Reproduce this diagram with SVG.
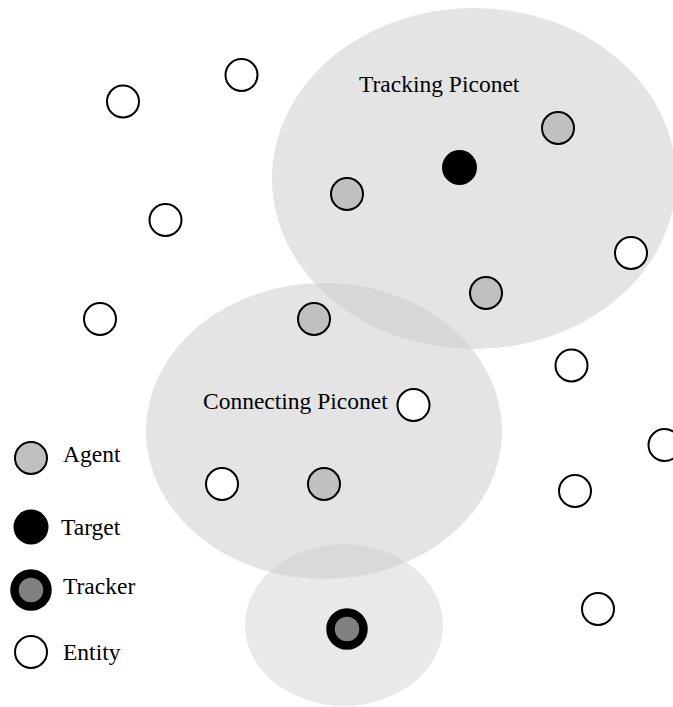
<svg xmlns="http://www.w3.org/2000/svg" width="673" height="707" viewBox="0 0 673 707">
  <style>
    .zone { fill: #c9c9c9; fill-opacity: 0.5; stroke: none; }
    .zone-small { fill: #c9c9c9; fill-opacity: 0.41; stroke: none; }
    .entity { fill: #ffffff; stroke: #000000; stroke-width: 2; }
    .agent { fill: #c0c0c0; stroke: #000000; stroke-width: 2; }
    .target { fill: #000000; stroke: none; }
    .tracker { fill: #808080; stroke: #000000; stroke-width: 8.5; }
    .label { font-family: "Liberation Serif", "Times New Roman", serif; font-size: 23.5px; fill: #000000; }
  </style>
  <rect x="0" y="0" width="673" height="707" fill="#ffffff"/>

  <!-- piconet coverage areas -->
  <g id="piconets">
    <ellipse id="tracking-piconet" class="zone" cx="474" cy="178.5" rx="202" ry="170.5"/>
    <ellipse id="connecting-piconet" class="zone" cx="324" cy="431" rx="178" ry="148"/>
    <ellipse id="tracker-piconet" class="zone-small" cx="344" cy="625" rx="99" ry="81"/>
  </g>

  <g id="piconet-labels">
    <text class="label" x="359" y="92">Tracking Piconet</text>
    <text class="label" x="203" y="409">Connecting Piconet</text>
  </g>

  <!-- entities -->
  <g id="entity-1"><circle class="entity" cx="241.5" cy="75" r="16"/></g>
  <g id="entity-2"><circle class="entity" cx="123" cy="101.5" r="16"/></g>
  <g id="entity-3"><circle class="entity" cx="165.5" cy="220" r="16"/></g>
  <g id="entity-4"><circle class="entity" cx="100" cy="319" r="16"/></g>
  <g id="entity-5"><circle class="entity" cx="631" cy="253" r="16"/></g>
  <g id="entity-6"><circle class="entity" cx="571.5" cy="365.5" r="16"/></g>
  <g id="entity-7"><circle class="entity" cx="413.5" cy="405" r="16"/></g>
  <g id="entity-8"><circle class="entity" cx="664.5" cy="445" r="16"/></g>
  <g id="entity-9"><circle class="entity" cx="575" cy="491" r="16"/></g>
  <g id="entity-10"><circle class="entity" cx="598" cy="609" r="16"/></g>
  <g id="entity-11"><circle class="entity" cx="222" cy="484" r="16"/></g>

  <!-- agents -->
  <g id="agent-1"><circle class="agent" cx="558" cy="128" r="16"/></g>
  <g id="agent-2"><circle class="agent" cx="347" cy="194" r="16"/></g>
  <g id="agent-3"><circle class="agent" cx="486" cy="293" r="16"/></g>
  <g id="agent-4"><circle class="agent" cx="314" cy="319" r="16"/></g>
  <g id="agent-5"><circle class="agent" cx="324" cy="484" r="16"/></g>

  <!-- target and tracker -->
  <g id="target"><circle class="target" cx="459.5" cy="167.5" r="17.5"/></g>
  <g id="tracker"><circle class="tracker" cx="347" cy="629" r="16.5"/></g>

  <!-- legend -->
  <g id="legend-agent">
    <circle class="agent" cx="31" cy="458" r="16"/>
    <text class="label" x="63" y="462">Agent</text>
  </g>
  <g id="legend-target">
    <circle class="target" cx="31" cy="527" r="17.5"/>
    <text class="label" x="61" y="535">Target</text>
  </g>
  <g id="legend-tracker">
    <circle class="tracker" cx="31" cy="590" r="16.5"/>
    <text class="label" x="63" y="594">Tracker</text>
  </g>
  <g id="legend-entity">
    <circle class="entity" cx="31" cy="652" r="16"/>
    <text class="label" x="63" y="660">Entity</text>
  </g>
</svg>
